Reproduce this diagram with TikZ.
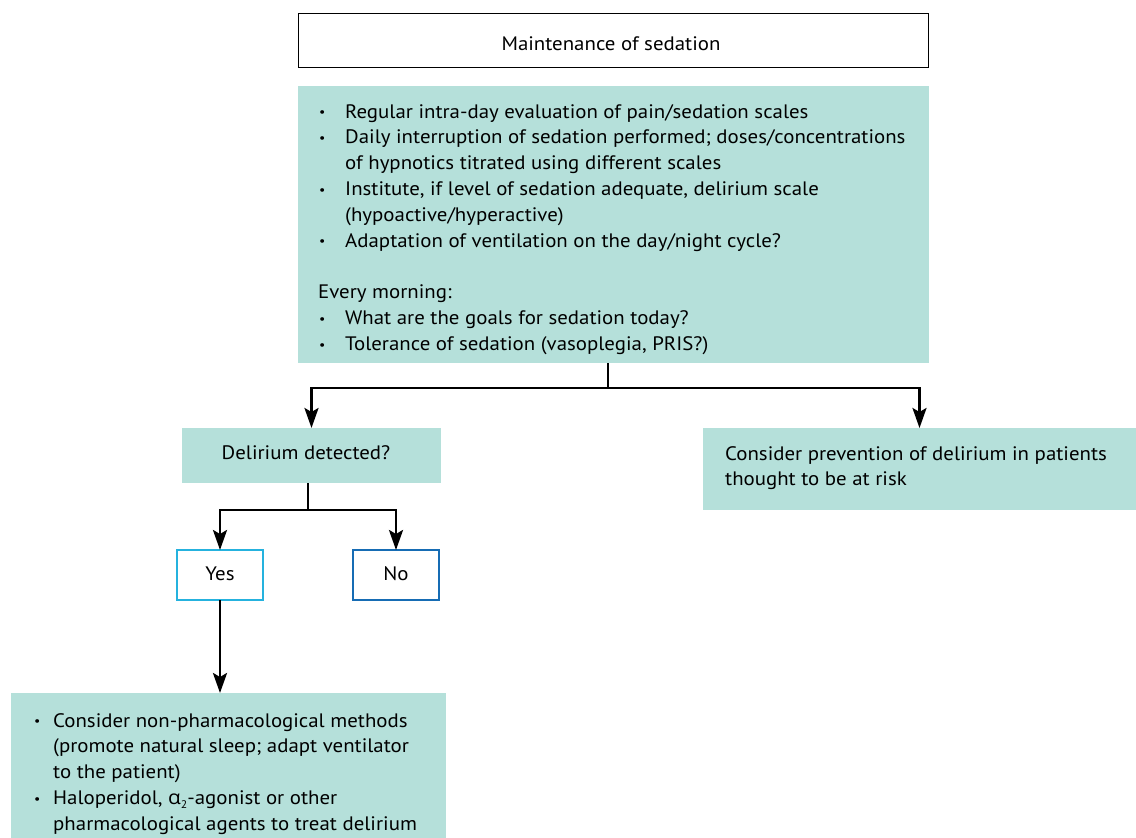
\documentclass[tikz,border=0pt]{standalone}
\usepackage{fontspec}
\setmainfont[FakeStretch=1.07]{PT Sans}
\newfontfamily\grk[FakeStretch=1.07]{Open Sans}
\usetikzlibrary{arrows.meta}
\definecolor{boxgreen}{RGB}{181,224,218}
\definecolor{yescyan}{RGB}{37,178,222}
\definecolor{noblue}{RGB}{22,108,180}
\newcommand{\fs}{\fontsize{19.5}{25.8}\selectfont}
\tikzset{
  txt/.style={font=\fs, inner sep=0pt, align=left, anchor=north west},
  lbl/.style={font=\fs, inner sep=0pt},
  gbox/.style={fill=boxgreen, draw=none, anchor=north west, inner sep=0pt, outer sep=0pt},
  choice/.style={fill=white, line width=2pt, inner sep=0pt, outer sep=0pt, minimum width=86pt, minimum height=50pt},
  conn/.style={line width=2.6pt, -{Stealth[length=20pt,width=14pt,inset=4pt]}},
  plainline/.style={line width=2.6pt},
}
\newcommand{\smallbul}{\raisebox{1.2pt}{\fontsize{13}{13}\selectfont\textbullet}}
\newcommand{\bulA}{\makebox[27pt][l]{\hspace{1pt}\smallbul}}
\newcommand{\indA}{\hspace*{27pt}}
\newcommand{\bulB}{\makebox[20pt][l]{\hspace{1pt}\smallbul}}
\newcommand{\indB}{\hspace*{20pt}}
\begin{document}
\begin{tikzpicture}[x=1pt,y=-1pt]
\useasboundingbox (0,0) rectangle (1136,838);
% title
\node[draw=black, line width=0.9pt, fill=white, anchor=north west, inner sep=0pt, outer sep=0pt,
      minimum width=630pt, minimum height=54pt] (title) at (298.5,13.5) {};
\node[lbl] (titletxt) at (611,43.5) {Maintenance of sedation};
% main green box
\node[gbox, minimum width=631pt, minimum height=277pt] (main) at (298,86) {};
\node[txt] (maintxt) at (318,104) {%
\bulA Regular intra-day evaluation of pain/sedation scales\\
\bulA Daily interruption of sedation performed; doses/concentrations\\
\indA of hypnotics titrated using different scales\\
\bulA Institute, if level of sedation adequate, delirium scale\\
\indA (hypoactive/hyperactive)\\
\bulA Adaptation of ventilation on the day/night cycle?\\[25.8pt]
Every morning:\\
\bulA What are the goals for sedation today?\\
\bulA Tolerance of sedation (vasoplegia, PRIS?)};
% delirium box
\node[gbox, minimum width=259pt, minimum height=55pt] (del) at (182,428) {};
\node[lbl] (deltxt) at (306,453) {Delirium detected?};
% risk box
\node[gbox, minimum width=433pt, minimum height=82pt] (risk) at (703,428) {};
\node[txt] (risktxt) at (725,446) {Consider prevention of delirium in patients\\thought to be at risk};
% yes / no
\node[choice, draw=yescyan] (yes) at (220,575) {};
\node[lbl] (yestxt) at (220,574) {Yes};
\node[choice, draw=noblue] (no) at (396,575) {};
\node[lbl] (notxt) at (396,574) {No};
% treatment box
\node[gbox, minimum width=435pt, minimum height=145pt] (treat) at (11,693) {};
\node[txt] (treattxt) at (33,713) {%
\bulB Consider non-pharmacological methods\\
\indB (promote natural sleep; adapt ventilator\\
\indB to the patient)\\
\bulB Haloperidol, {\grk α}\raisebox{-0.4ex}{\fontsize{11}{11}\selectfont 2}-agonist or other\\
\indB pharmacological agents to treat delirium};
% connectors
\coordinate (j1) at (608,388);
\coordinate (j2) at (308,510);
\draw[plainline] (main.south -| j1) -- (j1);
\draw[conn] (j1) -| (del.north);
\draw[conn] (j1) -| (risk.north);
\draw[plainline] (del.south -| j2) -- (j2);
\draw[conn] (j2) -| (yes.north);
\draw[conn] (j2) -| (no.north);
\draw[conn] (yes.south) -- (yes.south |- treat.north);
\end{tikzpicture}
\end{document}
